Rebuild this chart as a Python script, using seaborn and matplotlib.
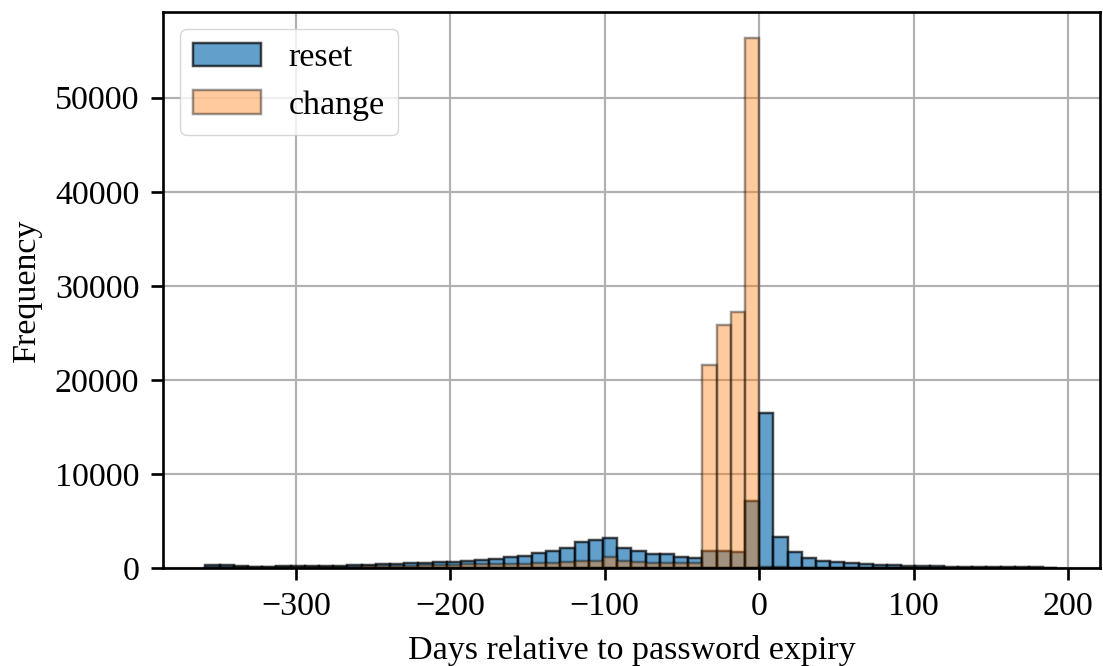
import numpy as np
import pandas as pd
import matplotlib
matplotlib.use("Agg")
import matplotlib.pyplot as plt
import seaborn as sns

# Histogram bins (days relative to password expiry)
bin_lo = -358.6
bin_width = 9.195
n_bins = 60

# Counts per bin
reset_counts = [300, 280, 180, 160, 150, 170, 190, 200, 230, 260,
                280, 320, 400, 430, 500, 580, 640, 680, 780, 900,
                1010, 1130, 1300, 1600, 1840, 2160, 2770, 2950, 3220, 2160,
                1790, 1540, 1450, 1220, 1080, 1770, 1770, 1750, 7160, 16520,
                3250, 1730, 1030, 780, 640, 530, 425, 350, 300, 250,
                200, 170, 140, 120, 100, 90, 80, 70, 60, 50]
change_counts = [120, 110, 90, 80, 80, 90, 100, 110, 120, 140,
                 160, 180, 200, 230, 260, 290, 320, 350, 380, 410,
                 440, 460, 480, 500, 560, 640, 780, 780, 1140, 710,
                 640, 560, 500, 500, 500, 21600, 25800, 27200, 56300, 150,
                 60, 30, 20, 10, 10, 0, 0, 0, 0, 0,
                 0, 0, 0, 0, 0, 0, 0, 0, 0, 0]

edges = list(bin_lo + bin_width * np.arange(n_bins + 1))
centers = [(a + b) / 2 for a, b in zip(edges[:-1], edges[1:])]
df = pd.DataFrame({'days': centers, 'reset': reset_counts, 'change': change_counts})

# matplotlib defaults, scaled up (the figure looks like a small plot saved at high dpi)
s = 2.4
sns.set_style("ticks")
plt.rcParams.update({
    'font.family': ['Liberation Serif', 'DejaVu Serif'],
    'mathtext.fontset': 'stix',
    'font.size': 24.5,
    'text.color': 'black',
    'axes.labelcolor': 'black',
    'xtick.color': 'black',
    'ytick.color': 'black',
    'axes.edgecolor': 'black',
    'axes.linewidth': 0.8 * s,
    'xtick.major.size': 3.5 * s,
    'ytick.major.size': 3.5 * s,
    'xtick.major.width': 0.8 * s,
    'ytick.major.width': 0.8 * s,
    'xtick.major.pad': 3.5 * s,
    'ytick.major.pad': 3.5 * s,
    'axes.labelpad': 4.0 * s,
    'grid.color': '#b0b0b0',
    'grid.linewidth': 0.65 * s,
    'legend.framealpha': 0.8,
    'legend.edgecolor': '0.8',
})

fig = plt.figure(figsize=(11.03, 6.66), dpi=100)
ax = fig.add_axes([0.1475, 0.1471, 0.8498, 0.8349])

sns.histplot(data=df, x='days', weights='reset', bins=edges, ax=ax,
             color='#1f77b4', alpha=0.7, edgecolor=(0, 0, 0, 0.7),
             linewidth=0.75 * s, label='reset')
sns.histplot(data=df, x='days', weights='change', bins=edges, ax=ax,
             color='#ff7f0e', alpha=0.4, edgecolor=(0, 0, 0, 0.4),
             linewidth=0.75 * s, label='change')

ax.set_xticks([-300, -200, -100, 0, 100, 200])
ax.set_yticks([0, 10000, 20000, 30000, 40000, 50000])
ax.set_xlabel('Days relative to password expiry')
ax.set_ylabel('Frequency')
ax.grid(True)
ax.set_axisbelow(True)

ax.legend(loc='upper left', fontsize=24.5)

fig.savefig('out.png', dpi=100)
